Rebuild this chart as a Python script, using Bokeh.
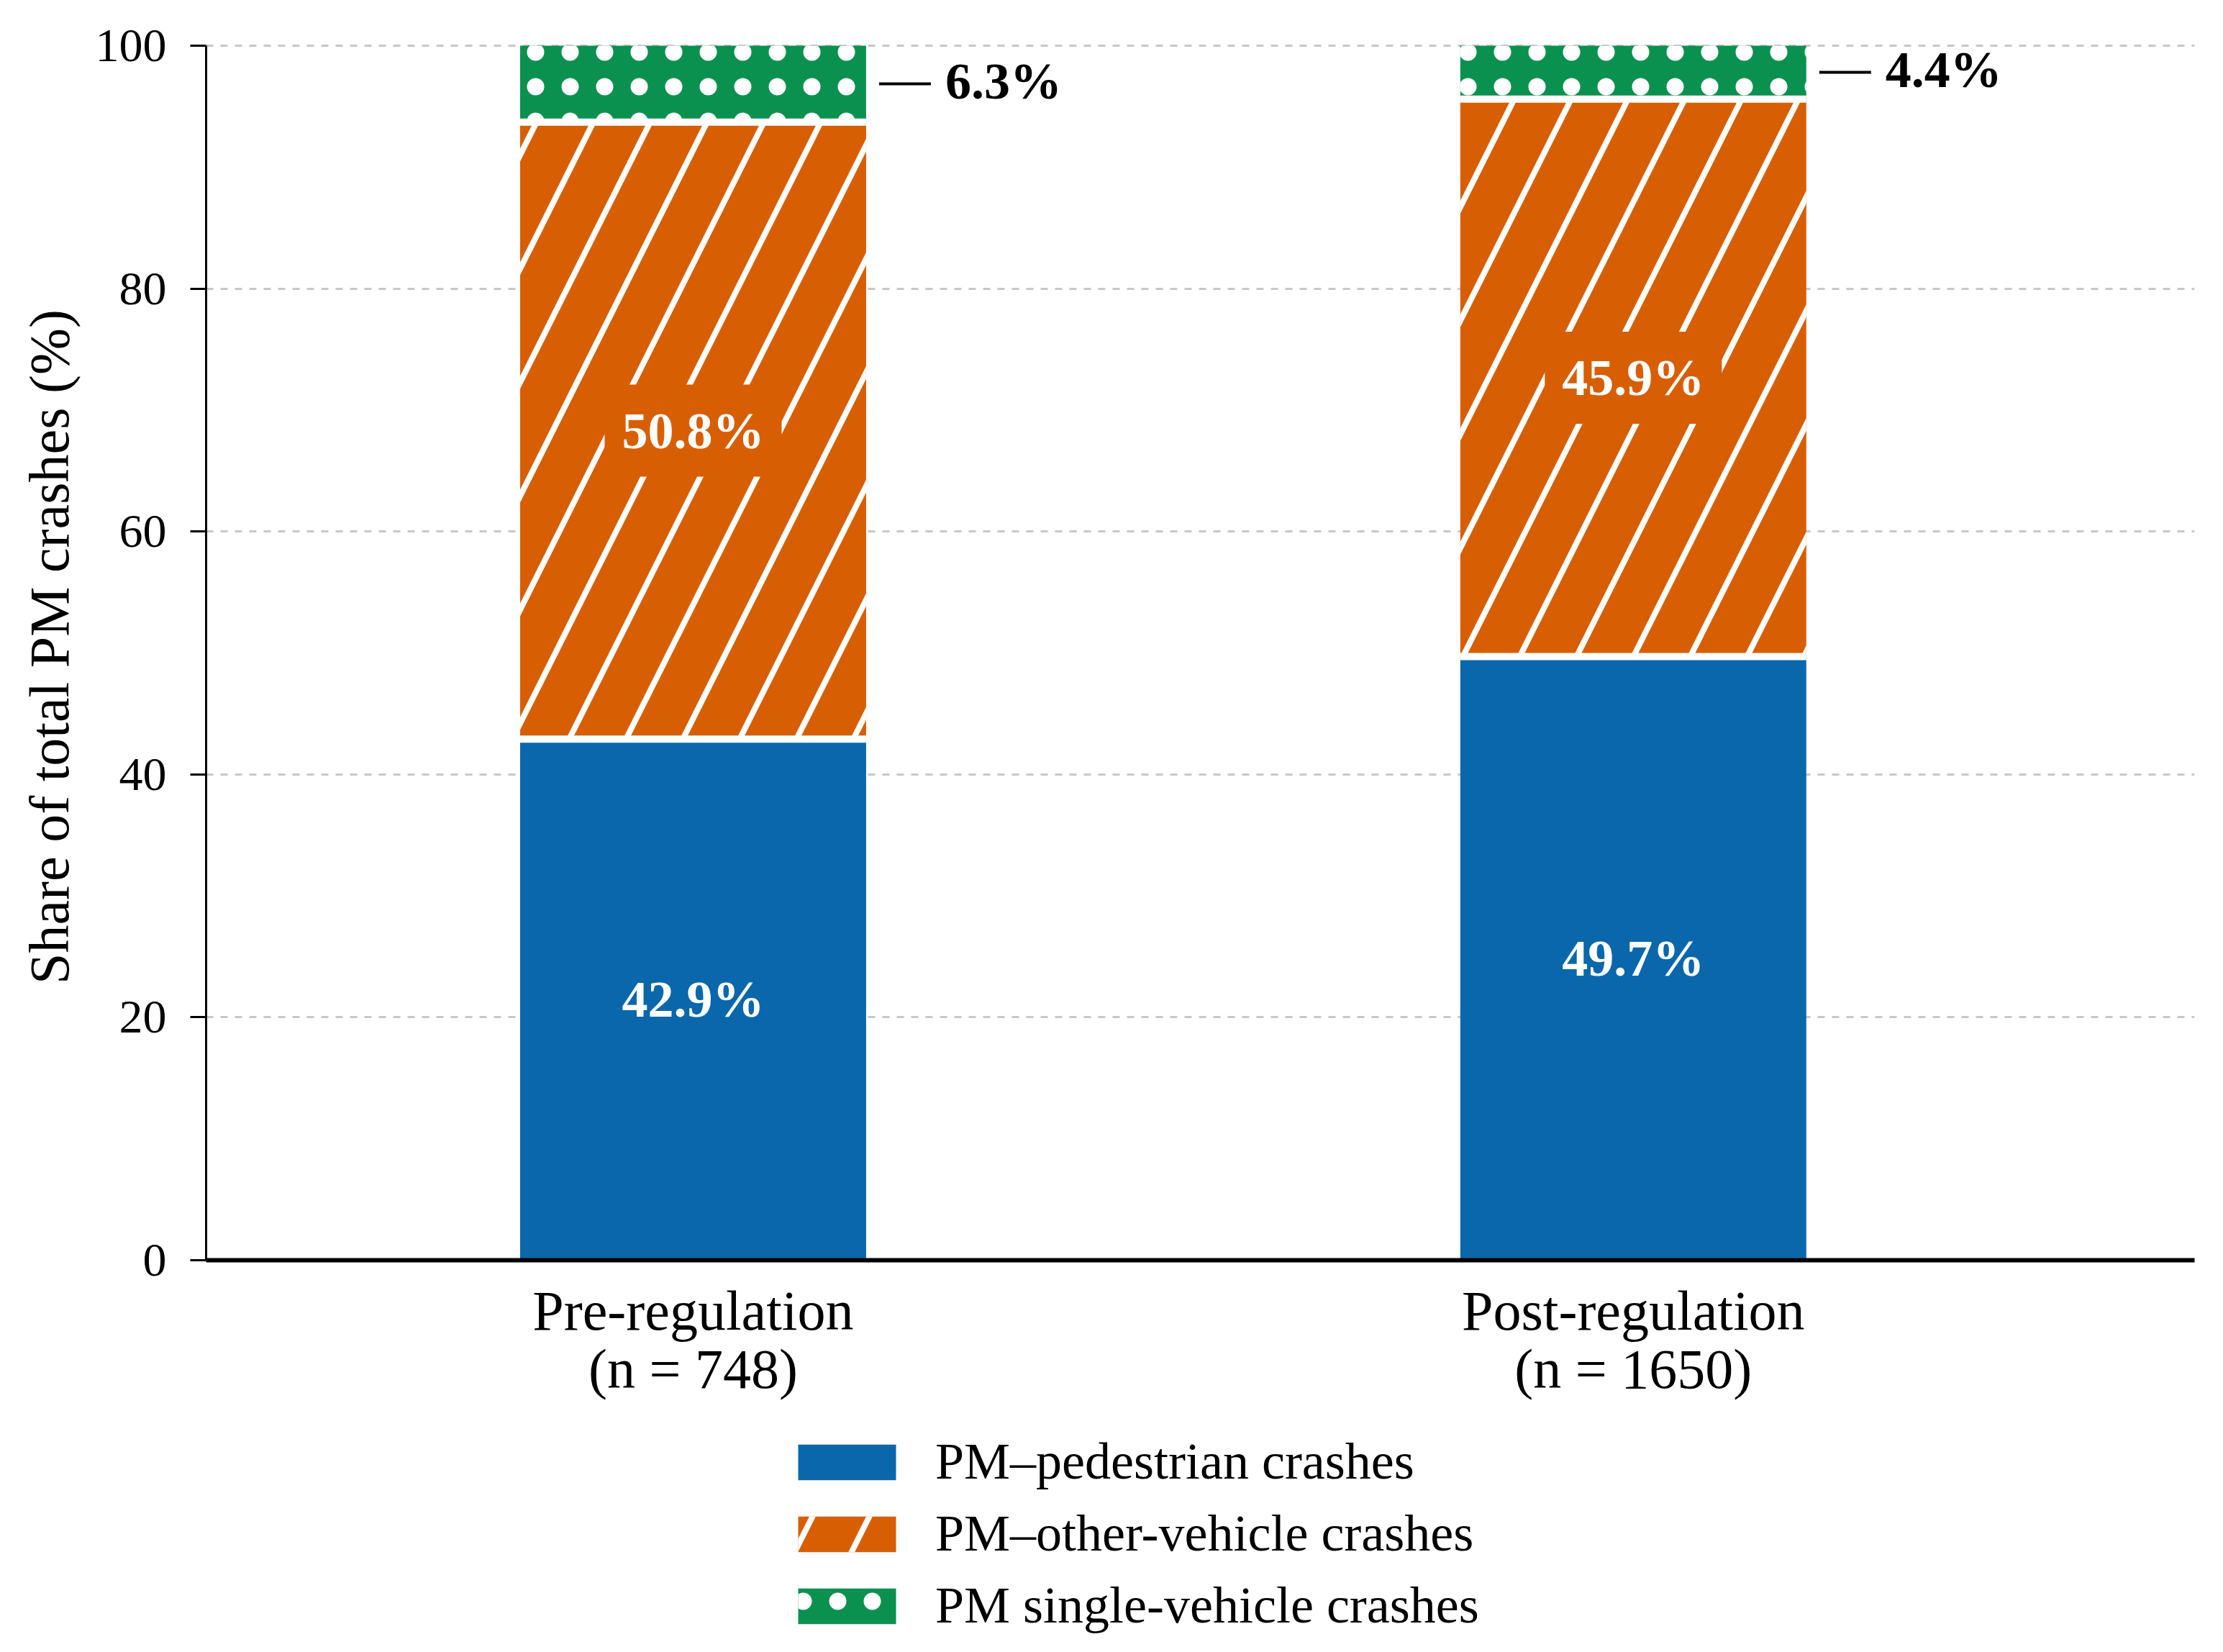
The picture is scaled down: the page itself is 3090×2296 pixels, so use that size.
import numpy as np
from bokeh.plotting import figure
from bokeh.layouts import column
from bokeh.models import ColumnDataSource, Range1d, FixedTicker
from bokeh.embed import file_html
from bokeh.resources import INLINE
from bokeh.core.properties import value

# ---------------- data ----------------
periods = ["Pre-regulation\n(n = 748)", "Post-regulation\n(n = 1650)"]
series = ["PM\u2013pedestrian crashes", "PM\u2013other-vehicle crashes", "PM single-vehicle crashes"]
pedestrian = [42.9, 49.7]
other_vehicle = [50.8, 45.9]
single_vehicle = [6.3, 4.4]
y_ticks = [0, 20, 40, 60, 80, 100]

# ---------------- style / layout ----------------
colors = ["#0A67AC", "#D85E04", "#0A9150"]
FONT = value("Liberation Serif")
BAR_W = 0.368
W = 3082
H1, H2 = 1985, 303
TOP, LEFT, RIGHT = 46, 286, 32
ZERO_PX = 1751
patterns = [" ", "/", "."]
h_scales = [12, 158, 48]
h_weights = [1, 8, 1]

idx = np.arange(len(periods))
ped = np.array(pedestrian)
oth = np.array(other_vehicle)
sgl = np.array(single_vehicle)

src = ColumnDataSource(dict(x=idx, ped=ped, oth=oth, sgl=sgl))

p = figure(width=W, height=H1, output_backend="svg", toolbar_location=None,
           x_range=Range1d(-0.518, 1.597), y_range=Range1d(0, 101),
           min_border_left=LEFT, min_border_right=RIGHT, min_border_top=TOP,
           min_border_bottom=H1 - ZERO_PX)
p.outline_line_color = None
p.background_fill_color = "white"
p.border_fill_color = "white"

p.vbar_stack(["ped", "oth", "sgl"], x="x", width=BAR_W, source=src,
             fill_color=colors, line_color=None,
             hatch_pattern=patterns, hatch_color="white",
             hatch_scale=h_scales, hatch_weight=h_weights)

# white separators between stacked segments
b1 = ped
b2 = ped + oth
sep = ColumnDataSource(dict(x0=np.concatenate([idx, idx]) - BAR_W / 2,
                            x1=np.concatenate([idx, idx]) + BAR_W / 2,
                            y=np.concatenate([b1, b2])))
p.segment(x0="x0", y0="y", x1="x1", y1="y", source=sep, line_color="white", line_width=10)

# inside labels
for vals, bottoms, col in [(ped, np.zeros_like(ped), colors[0]), (oth, b1, colors[1])]:
    s = ColumnDataSource(dict(x=idx, y=bottoms + vals / 2, t=[f"{v:.1f}%" for v in vals]))
    p.text(x="x", y="y", text="t", source=s, text_color="white", text_font=FONT,
           text_font_style="bold", text_font_size="72px", text_align="center",
           text_baseline="middle", background_fill_color=col, padding=24)

# outside labels for single-vehicle share
ys = b2 + sgl / 2
lead = ColumnDataSource(dict(x0=idx + BAR_W / 2 + 0.0138, x1=idx + BAR_W / 2 + 0.0689, y=ys))
p.segment(x0="x0", y0="y", x1="x1", y1="y", source=lead, line_color="black", line_width=4)
outs = ColumnDataSource(dict(x=idx + BAR_W / 2 + 0.0842, y=ys, t=[f"{v:.1f}%" for v in sgl]))
p.text(x="x", y="y", text="t", source=outs, text_color="black", text_font=FONT,
       text_font_style="bold", text_font_size="72px", text_align="left",
       text_baseline="middle", y_offset=-4)

# x axis
p.xaxis.ticker = FixedTicker(ticks=[int(i) for i in idx])
p.xaxis.major_label_overrides = {int(i): lab for i, lab in zip(idx, periods)}
p.xaxis.axis_line_width = 6
p.xaxis.axis_line_color = "black"
p.xaxis.major_tick_line_color = None
p.xaxis.minor_tick_line_color = None
p.xaxis.major_label_standoff = 20
p.xaxis.major_label_text_font = "Liberation Serif"
p.xaxis.major_label_text_font_size = "78px"
p.xaxis.major_label_text_line_height = 0.94
p.xaxis.major_label_text_color = "black"

# y axis
p.yaxis.ticker = FixedTicker(ticks=y_ticks)
p.yaxis.bounds = (y_ticks[0], y_ticks[-1])
p.yaxis.axis_line_width = 3
p.yaxis.axis_line_color = "black"
p.yaxis.major_tick_line_width = 3
p.yaxis.major_tick_line_color = "black"
p.yaxis.major_tick_out = 22
p.yaxis.major_tick_in = 0
p.yaxis.minor_tick_line_color = None
p.yaxis.major_label_standoff = 33
p.yaxis.major_label_text_font = "Liberation Serif"
p.yaxis.major_label_text_font_size = "66px"
p.yaxis.major_label_text_color = "black"
p.yaxis.axis_label = "Share of total PM crashes (%)"
p.yaxis.axis_label_text_font = "Liberation Serif"
p.yaxis.axis_label_text_font_style = "normal"
p.yaxis.axis_label_text_font_size = "78px"
p.yaxis.axis_label_text_color = "black"
p.yaxis.axis_label_standoff = 18

p.xgrid.visible = False
p.ygrid.ticker = FixedTicker(ticks=y_ticks)
p.ygrid.grid_line_color = "#c8c8c8"
p.ygrid.grid_line_width = 3
p.ygrid.grid_line_dash = "10 10"

# ---------------- legend panel below ----------------
# same stacked renderers, drawn outside this panel's view so only the legend shows
p2 = figure(width=W, height=H2, output_backend="svg", toolbar_location=None,
            x_axis_location=None, y_axis_location=None,
            x_range=Range1d(100, 101), y_range=Range1d(1000, 1001), min_border=0)
p2.outline_line_color = None
p2.grid.visible = False
p2.vbar_stack(["ped", "oth", "sgl"], x="x", width=BAR_W, source=src,
              fill_color=colors, line_color=None,
              hatch_pattern=patterns, hatch_color="white",
              hatch_scale=h_scales, hatch_weight=h_weights,
              legend_label=series)

lg = p2.legend[0]
lg.location = (806, 15)
lg.orientation = "vertical"
lg.border_line_color = None
lg.background_fill_alpha = 0
lg.padding = 0
lg.margin = 0
lg.spacing = 17
lg.glyph_width = 170
lg.glyph_height = 62
lg.label_standoff = 38
lg.label_height = 83
lg.label_text_font = "Liberation Serif"
lg.label_text_font_size = "72px"
lg.label_text_color = "black"

layout = column(p, p2, spacing=0)
open("out.html", "w").write(file_html(layout, INLINE))
